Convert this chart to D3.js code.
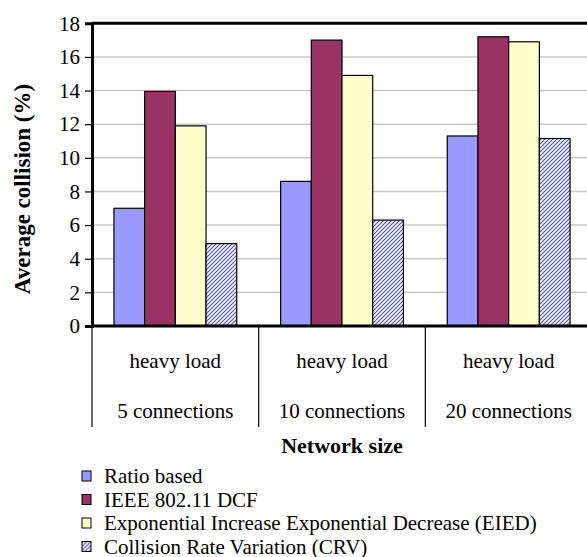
<!DOCTYPE html>
<html>
<head>
<meta charset="utf-8">
<script src="https://cdn.jsdelivr.net/npm/d3@7"></script>
</head>
<body style="margin:0; background:#fff">
<svg id="chart" width="587" height="557"></svg>
<script>
// data
const categories = ["5 connections", "10 connections", "20 connections"];
const loadLabels = ["heavy load", "heavy load", "heavy load"];
const seriesNames = [
  "Ratio based",
  "IEEE 802.11 DCF",
  "Exponential Increase Exponential Decrease (EIED)",
  "Collision Rate Variation (CRV)"
];
const ratioBased = [7.0, 8.6, 11.3];
const ieeeDcf = [13.95, 17.0, 17.2];
const eied = [11.9, 14.9, 16.9];
const crv = [4.9, 6.3, 11.15];
const yTicks = [0, 2, 4, 6, 8, 10, 12, 14, 16, 18];

const seriesValues = [ratioBased, ieeeDcf, eied, crv];
const fills = ["#9999ff", "#993366", "#ffffcc", "url(#hatch)"];

const svg = d3.select("svg#chart");
const plotLeft = 92, plotRight = 592, plotTop = 23.3, plotBottom = 326;

// hatch pattern for CRV
const defs = svg.append("defs");
const pat = defs.append("pattern")
  .attr("id", "hatch")
  .attr("patternUnits", "userSpaceOnUse")
  .attr("width", 4).attr("height", 4);
pat.append("rect").attr("width", 4).attr("height", 4).attr("fill", "#f6f6ff");
pat.append("path")
  .attr("d", "M-1,1 l2,-2 M0,4 l4,-4 M3,5 l2,-2")
  .attr("stroke", "#5656a6")
  .attr("stroke-width", 1.15);

const x = d3.scaleBand().domain(categories).range([plotLeft, plotRight]).padding(0);
const xSub = d3.scaleBand().domain(d3.range(seriesNames.length))
  .range([0, x.bandwidth()]).paddingInner(0).paddingOuter(0.715);
const y = d3.scaleLinear().domain([0, 18]).range([plotBottom, plotTop]);

// gridlines
svg.append("g")
  .selectAll("line")
  .data(yTicks.filter(d => d > 0 && d < 18))
  .join("line")
  .attr("x1", plotLeft).attr("x2", plotRight)
  .attr("y1", d => y(d)).attr("y2", d => y(d))
  .attr("stroke", "#c8c8c8")
  .attr("stroke-width", 1.5);

// bars
categories.forEach((cat, ci) => {
  svg.append("g")
    .selectAll("rect")
    .data(seriesValues.map((vals, si) => ({ si, v: vals[ci] })))
    .join("rect")
    .attr("x", d => x(cat) + xSub(d.si))
    .attr("width", xSub.bandwidth())
    .attr("y", d => y(d.v))
    .attr("height", d => y(0) - y(d.v))
    .attr("fill", d => fills[d.si])
    .attr("stroke", "#000")
    .attr("stroke-width", 1.2);
});

// top border
svg.append("line")
  .attr("x1", plotLeft).attr("x2", plotRight)
  .attr("y1", plotTop).attr("y2", plotTop)
  .attr("stroke", "#000").attr("stroke-width", 3);

// y axis
const yAxis = svg.append("g")
  .attr("transform", `translate(${plotLeft},0)`)
  .call(d3.axisLeft(y).tickValues(yTicks).tickSize(7).tickPadding(5));
yAxis.attr("font-size", 21);
yAxis.select(".domain").attr("stroke-width", 3);
yAxis.selectAll(".tick line").attr("stroke-width", 1.2);
yAxis.selectAll("text").attr("fill", "#000");

// x axis line
svg.append("line")
  .attr("x1", plotLeft).attr("x2", plotRight)
  .attr("y1", plotBottom).attr("y2", plotBottom)
  .attr("stroke", "#000").attr("stroke-width", 3);

// category separators
svg.append("g")
  .selectAll("line")
  .data(categories)
  .join("line")
  .attr("x1", d => x(d)).attr("x2", d => x(d))
  .attr("y1", plotBottom).attr("y2", 427)
  .attr("stroke", "#000").attr("stroke-width", 1.2);

// category labels
const catG = svg.append("g").attr("font-size", 21).attr("text-anchor", "middle");
catG.selectAll("text.load")
  .data(categories)
  .join("text")
  .attr("class", "load")
  .attr("x", d => x(d) + x.bandwidth() / 2)
  .attr("y", 368)
  .text((d, i) => loadLabels[i]);
catG.selectAll("text.conn")
  .data(categories)
  .join("text")
  .attr("class", "conn")
  .attr("x", d => x(d) + x.bandwidth() / 2)
  .attr("y", 418)
  .text(d => d);

// axis titles
svg.append("text")
  .attr("x", 342).attr("y", 453)
  .attr("text-anchor", "middle")
  .attr("font-size", 22).attr("font-weight", "bold")
  .text("Network size");

svg.append("text")
  .attr("transform", "translate(30,189) rotate(-90)")
  .attr("text-anchor", "middle")
  .attr("font-size", 23).attr("font-weight", "bold")
  .text("Average collision (%)");

// legend
const legend = svg.append("g").attr("transform", "translate(82,476)");
const item = legend.selectAll("g")
  .data(seriesNames)
  .join("g")
  .attr("transform", (d, i) => `translate(0,${i * 23.5})`);
item.append("rect")
  .attr("x", 0).attr("y", -5)
  .attr("width", 9).attr("height", 10)
  .attr("fill", (d, i) => fills[i])
  .attr("stroke", "#000").attr("stroke-width", 1);
item.append("text")
  .attr("x", 22).attr("y", 7)
  .attr("font-size", 21)
  .text(d => d);

// Times-like face on every label
svg.selectAll("text").style("font-family", "Liberation Serif");
</script>
</body>
</html>
